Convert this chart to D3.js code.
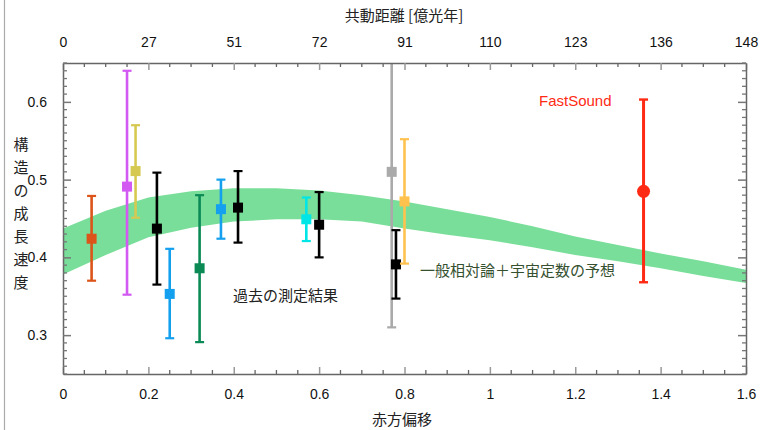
<!DOCTYPE html>
<html><head><meta charset="utf-8">
<script src="https://cdn.jsdelivr.net/npm/d3@7"></script>
<style>
html,body{margin:0;padding:0;background:#fff;}
svg{display:block;}
text{font-family:"Liberation Sans",Arial,sans-serif;}
.jp{font-family:"Noto Sans CJK JP","Liberation Sans",sans-serif;}
</style></head>
<body>
<svg id="chart" width="769" height="430"></svg>
<script>
// ---- data ----
const redshift = [0.067, 0.15, 0.17, 0.22, 0.25, 0.32, 0.37, 0.41, 0.57, 0.60, 0.77, 0.78, 0.80];
const growth   = [0.424, 0.491, 0.511, 0.437, 0.353, 0.386, 0.462, 0.464, 0.449, 0.442, 0.510, 0.391, 0.472];
const errUp    = [0.055, 0.149, 0.059, 0.072, 0.058, 0.094, 0.038, 0.047, 0.028, 0.042, 0.200, 0.044, 0.080];
const errDown  = [0.054, 0.139, 0.060, 0.072, 0.057, 0.095, 0.038, 0.045, 0.028, 0.042, 0.200, 0.044, 0.080];
const pointColors = ["#dc5419", "#d25af2", "#d6c952", "#000000", "#14a0ee", "#0b8a56", "#14a0ee", "#000000", "#00e5e5", "#000000", "#aaaaaa", "#000000", "#ffc24f"];

const fastSoundZ = [1.36];
const fastSoundF = [0.485];
const fastSoundUp = [0.118];
const fastSoundDown = [0.117];

const bandZ     = [0.0, 0.1, 0.2, 0.3, 0.4, 0.5, 0.6, 0.7, 0.8, 0.9, 1.0, 1.1, 1.2, 1.3, 1.4, 1.5, 1.6];
const bandUpper = [0.437, 0.460, 0.477, 0.485, 0.489, 0.489, 0.486, 0.480, 0.472, 0.462, 0.452, 0.440, 0.427, 0.416, 0.405, 0.395, 0.384];
const bandLower = [0.378, 0.403, 0.426, 0.438, 0.446, 0.449, 0.449, 0.446, 0.437, 0.429, 0.422, 0.413, 0.403, 0.395, 0.386, 0.376, 0.367];

const bottomTicks = [0, 0.2, 0.4, 0.6, 0.8, 1, 1.2, 1.4, 1.6];
const bottomTickLabels = ["0", "0.2", "0.4", "0.6", "0.8", "1", "1.2", "1.4", "1.6"];
const topTickLabels = ["0", "27", "51", "72", "91", "110", "123", "136", "148"];
const leftTicks = [0.3, 0.4, 0.5, 0.6];
const leftTickLabels = ["0.3", "0.4", "0.5", "0.6"];

// ---- layout ----
const L = 63, R = 746, T = 63, B = 374;
const svg = d3.select("#chart");
const x = d3.scaleLinear().domain([0, 1.6]).range([L, R]);
const y = d3.scaleLinear().domain([0.25, 0.65]).range([B, T]);

// left image border line
svg.append("line").attr("x1", 4.5).attr("x2", 4.5).attr("y1", 0).attr("y2", 430)
  .attr("stroke", "#aaa").attr("stroke-width", 1.2);

svg.append("defs").append("clipPath").attr("id", "clip")
  .append("rect").attr("x", L).attr("y", T).attr("width", R - L).attr("height", B - T);

const plot = svg.append("g").attr("clip-path", "url(#clip)");

// band
const bandData = bandZ.map((z, i) => ({z, u: bandUpper[i], l: bandLower[i]}));
plot.append("path").datum(bandData)
  .attr("d", d3.area().x(d => x(d.z)).y0(d => y(d.l)).y1(d => y(d.u)))
  .attr("fill", "#79de99");

// axes
const minorX = d3.range(0, 1.6001, 0.05).filter(v => Math.abs(v / 0.2 - Math.round(v / 0.2)) > 1e-6);
const minorY = d3.range(0.25, 0.6501, 0.01).filter(v => Math.abs(v * 10 - Math.round(v * 10)) > 1e-6);

function styleAxis(g, majorColor) {
  g.select(".domain").attr("stroke", "#666").attr("stroke-width", 1.5);
  g.selectAll(".tick line").attr("stroke", majorColor).attr("stroke-width", 1.5);
  g.selectAll(".tick text").attr("font-size", 14).attr("fill", "#111")
    .attr("font-family", "Liberation Sans, Arial, sans-serif");
}

// bottom
const gB = svg.append("g").attr("transform", `translate(0,${B})`)
  .call(d3.axisBottom(x).tickValues(bottomTicks).tickFormat((d, i) => bottomTickLabels[i]).tickSizeInner(-7).tickSizeOuter(0).tickPadding(15));
styleAxis(gB, "#999");
gB.selectAll(".minor").data(minorX).enter().append("line").attr("class", "minor")
  .attr("x1", d => x(d)).attr("x2", d => x(d)).attr("y1", 0).attr("y2", -4).attr("stroke", "#666").attr("stroke-width", 1.3);

// top
const gT = svg.append("g").attr("transform", `translate(0,${T})`)
  .call(d3.axisTop(x).tickValues(bottomTicks).tickFormat((d, i) => topTickLabels[i]).tickSizeInner(-7).tickSizeOuter(0).tickPadding(16));
styleAxis(gT, "#999");
gT.selectAll(".minor").data(minorX).enter().append("line").attr("class", "minor")
  .attr("x1", d => x(d)).attr("x2", d => x(d)).attr("y1", 0).attr("y2", 4).attr("stroke", "#666").attr("stroke-width", 1.3);

// left
const gL = svg.append("g").attr("transform", `translate(${L},0)`)
  .call(d3.axisLeft(y).tickValues(leftTicks).tickFormat((d, i) => leftTickLabels[i]).tickSizeInner(-8).tickSizeOuter(0).tickPadding(16));
styleAxis(gL, "#777");
gL.selectAll(".minor").data(minorY).enter().append("line").attr("class", "minor")
  .attr("y1", d => y(d)).attr("y2", d => y(d)).attr("x1", 0).attr("x2", 4).attr("stroke", "#777").attr("stroke-width", 1.3);

// right
const gR = svg.append("g").attr("transform", `translate(${R},0)`)
  .call(d3.axisRight(y).tickValues(leftTicks).tickFormat("").tickSizeInner(-8).tickSizeOuter(0));
styleAxis(gR, "#777");
gR.selectAll(".minor").data(minorY).enter().append("line").attr("class", "minor")
  .attr("y1", d => y(d)).attr("y2", d => y(d)).attr("x1", 0).attr("x2", -4).attr("stroke", "#777").attr("stroke-width", 1.3);

// error bars + markers
const pts = redshift.map((z, i) => ({z, f: growth[i], up: errUp[i], dn: errDown[i], c: pointColors[i]}));
const capW = 4.5;
const eg = plot.selectAll(".pt").data(pts).enter().append("g").attr("class", "pt");
eg.append("line").attr("x1", d => x(d.z)).attr("x2", d => x(d.z))
  .attr("y1", d => y(d.f + d.up)).attr("y2", d => y(d.f - d.dn))
  .attr("stroke", d => d.c).attr("stroke-width", 2.6);
eg.append("line").attr("x1", d => x(d.z) - capW).attr("x2", d => x(d.z) + capW)
  .attr("y1", d => y(d.f + d.up)).attr("y2", d => y(d.f + d.up))
  .attr("stroke", d => d.c).attr("stroke-width", 2.2);
eg.append("line").attr("x1", d => x(d.z) - capW).attr("x2", d => x(d.z) + capW)
  .attr("y1", d => y(d.f - d.dn)).attr("y2", d => y(d.f - d.dn))
  .attr("stroke", d => d.c).attr("stroke-width", 2.2);
eg.append("rect").attr("x", d => x(d.z) - 5).attr("y", d => y(d.f) - 5)
  .attr("width", 10).attr("height", 10).attr("fill", d => d.c);

// FastSound
const fs = fastSoundZ.map((z, i) => ({z, f: fastSoundF[i], up: fastSoundUp[i], dn: fastSoundDown[i]}));
const fg = plot.selectAll(".fs").data(fs).enter().append("g").attr("class", "fs");
const red = "#ff2a14";
fg.append("line").attr("x1", d => x(d.z)).attr("x2", d => x(d.z))
  .attr("y1", d => y(d.f + d.up)).attr("y2", d => y(d.f - d.dn)).attr("stroke", red).attr("stroke-width", 3);
fg.append("line").attr("x1", d => x(d.z) - capW).attr("x2", d => x(d.z) + capW)
  .attr("y1", d => y(d.f + d.up)).attr("y2", d => y(d.f + d.up)).attr("stroke", red).attr("stroke-width", 2.4);
fg.append("line").attr("x1", d => x(d.z) - capW).attr("x2", d => x(d.z) + capW)
  .attr("y1", d => y(d.f - d.dn)).attr("y2", d => y(d.f - d.dn)).attr("stroke", red).attr("stroke-width", 2.4);
fg.append("circle").attr("cx", d => x(d.z)).attr("cy", d => y(d.f)).attr("r", 6.5).attr("fill", red);

// texts
svg.append("text").attr("x", 539).attr("y", 106).attr("font-size", 15).attr("fill", red).text("FastSound");
svg.append("text").attr("class", "jp").attr("x", 233).attr("y", 301).attr("font-size", 15).attr("fill", "#222").text("過去の測定結果");
svg.append("text").attr("class", "jp").attr("x", 420).attr("y", 276).attr("font-size", 15).attr("fill", "#34502f").text("一般相対論＋宇宙定数の予想");
svg.append("text").attr("class", "jp").attr("x", 404).attr("y", 21).attr("text-anchor", "middle").attr("font-size", 15).attr("fill", "#222").text("共動距離 [億光年]");
svg.append("text").attr("class", "jp").attr("x", 402).attr("y", 425).attr("text-anchor", "middle").attr("font-size", 15).attr("fill", "#222").text("赤方偏移");
const ylab = "構造の成長速度".split("");
svg.append("g").selectAll("text").data(ylab).enter().append("text").attr("class", "jp")
  .attr("x", 21).attr("y", (d, i) => 150 + i * 23).attr("text-anchor", "middle")
  .attr("font-size", 15).attr("fill", "#222").text(d => d);
</script>
</body></html>
